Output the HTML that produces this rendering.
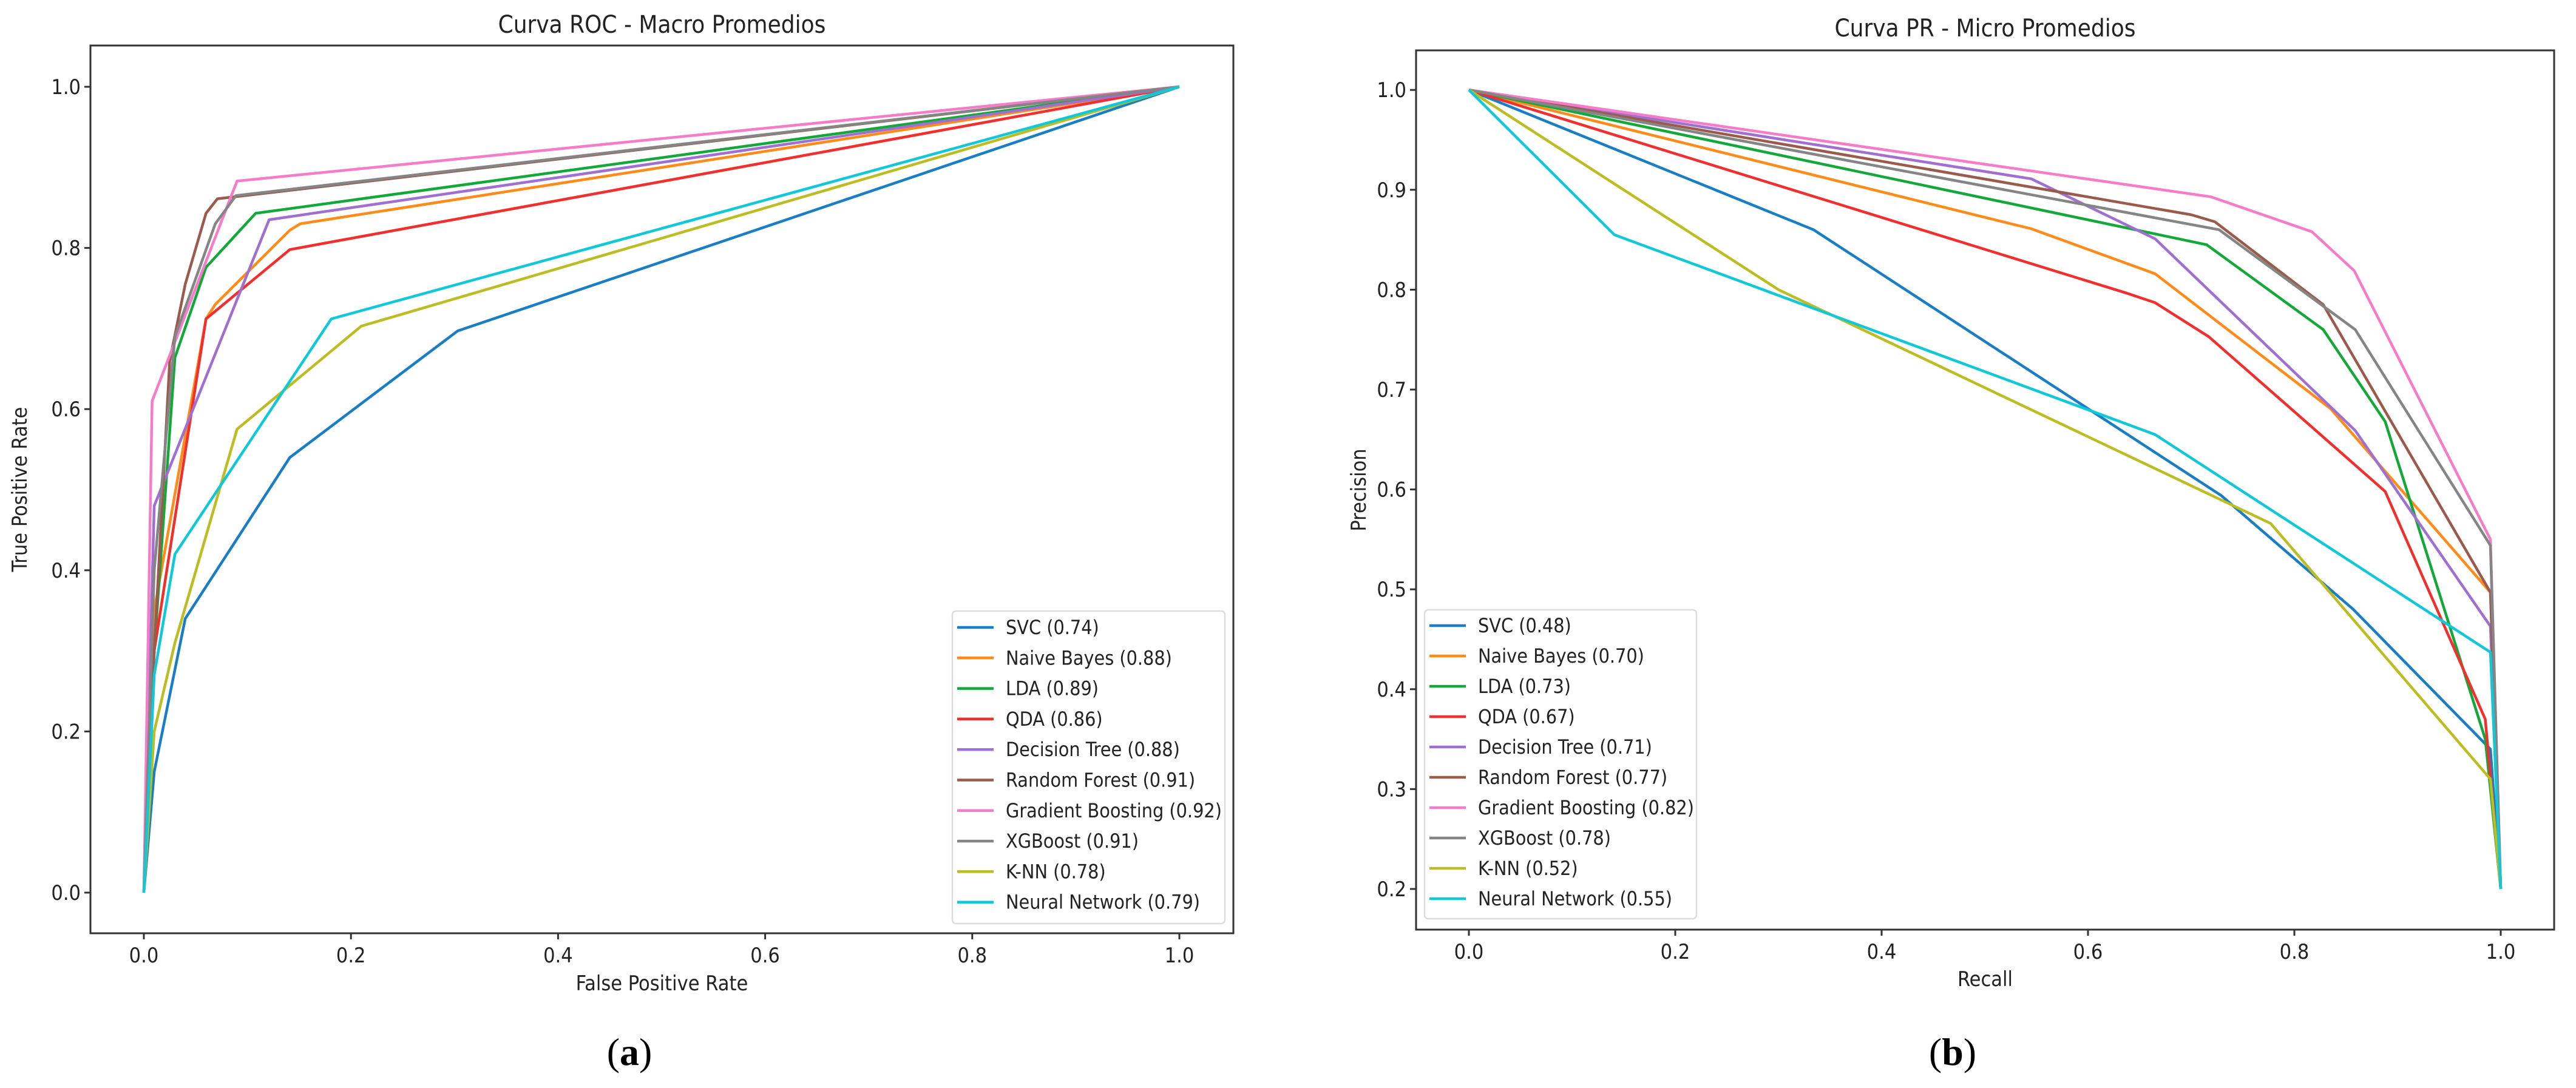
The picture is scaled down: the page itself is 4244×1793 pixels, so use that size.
<!DOCTYPE html>
<html><head><meta charset="utf-8"><style>
html,body{margin:0;padding:0;background:#fff;}
svg{display:block;font-family:"Liberation Sans Narrow","DejaVu Sans Condensed","Liberation Sans",sans-serif;}
</style></head><body>
<svg id="fig" width="4244" height="1793" viewBox="0 0 4244 1793" xmlns="http://www.w3.org/2000/svg"></svg>
<script>
const seriesNames=["SVC","Naive Bayes","LDA","QDA","Decision Tree","Random Forest","Gradient Boosting","XGBoost","K-NN","Neural Network"];
const seriesColors=["#1a7ec4","#ff8c1a","#14a83a","#f0302e","#a070d0","#9a5a4c","#f57cc8","#858585","#bcbd22","#10c8d8"];
const rocAuc=["0.74","0.88","0.89","0.86","0.88","0.91","0.92","0.91","0.78","0.79"];
const prAuc=["0.48","0.70","0.73","0.67","0.71","0.77","0.82","0.78","0.52","0.55"];
const rocX=[
[0,0.01,0.04,0.141,0.303,1],
[0,0.01,0.06,0.069,0.141,0.151,1],
[0,0.01,0.03,0.06,0.108,1],
[0,0.01,0.06,0.141,1],
[0,0.01,0.121,1],
[0,0.01,0.025,0.04,0.06,0.071,1],
[0,0.008,0.09,1],
[0,0.01,0.03,0.069,0.089,1],
[0,0.01,0.03,0.09,0.21,1],
[0,0.01,0.03,0.181,1]];
const rocY=[
[0,0.15,0.34,0.54,0.697,1],
[0,0.35,0.712,0.73,0.822,0.83,1],
[0,0.3,0.664,0.776,0.843,1],
[0,0.3,0.712,0.798,1],
[0,0.48,0.835,1],
[0,0.3,0.66,0.755,0.843,0.861,1],
[0,0.61,0.883,1],
[0,0.4,0.69,0.83,0.865,1],
[0,0.2,0.31,0.575,0.703,1],
[0,0.27,0.42,0.712,1]];
const prX=[
[0,0.334,0.729,0.857,0.99,1],
[0,0.545,0.665,0.835,0.99,1],
[0,0.715,0.828,0.888,0.985,1],
[0,0.636,0.665,0.717,0.801,0.888,0.985,1],
[0,0.545,0.665,0.859,0.99,1],
[0,0.7,0.723,0.828,0.99,1],
[0,0.719,0.817,0.858,0.99,1],
[0,0.727,0.859,0.99,1],
[0,0.3,0.777,0.99,1],
[0,0.141,0.665,0.99,1]];
const prY=[
[1,0.86,0.594,0.48,0.34,0.2],
[1,0.861,0.816,0.681,0.497,0.2],
[1,0.845,0.76,0.668,0.35,0.2],
[1,0.797,0.787,0.753,0.677,0.598,0.37,0.2],
[1,0.911,0.851,0.659,0.463,0.2],
[1,0.875,0.868,0.785,0.497,0.2],
[1,0.893,0.858,0.819,0.55,0.2],
[1,0.86,0.76,0.544,0.2],
[1,0.8,0.566,0.31,0.2],
[1,0.855,0.655,0.437,0.2]];
const rocXTicks=["0.0","0.2","0.4","0.6","0.8","1.0"];
const rocYTicks=["0.0","0.2","0.4","0.6","0.8","1.0"];
const prXTicks=["0.0","0.2","0.4","0.6","0.8","1.0"];
const prYTicks=["0.2","0.3","0.4","0.5","0.6","0.7","0.8","0.9","1.0"];

const NS="http://www.w3.org/2000/svg";
const svg=document.getElementById('fig');
function mk(tag,attrs,parent){const e=document.createElementNS(NS,tag);for(const k in attrs)e.setAttribute(k,attrs[k]);(parent||svg).appendChild(e);return e;}

function drawPanel(cfg){
  const g=mk('g',{});
  
  
  const sx=v=>cfg.x0+v*cfg.xs;
  const sy=v=>cfg.y0-(v-cfg.yBase)*cfg.ys;
  const t=mk('text',{x:(cfg.L+cfg.R)/2,y:cfg.titleY,'font-size':40,'text-anchor':'middle',fill:'#222'},g);
  t.textContent=cfg.title;
  
  
  for(let i=0;i<seriesNames.length;i++){
    const xs=cfg.X[i],ys=cfg.Y[i];
    let d='';
    for(let j=0;j<xs.length;j++)d+=(j?'L':'M')+sx(xs[j]).toFixed(1)+' '+sy(ys[j]).toFixed(1);
    const p=mk('path',{d:d,fill:'none',stroke:seriesColors[i],'stroke-width':4.5,'stroke-linejoin':'round'},g);
    
    
  }
  const box=mk('rect',{x:cfg.L,y:cfg.T,width:cfg.R-cfg.L,height:cfg.B-cfg.T,fill:'none',stroke:'#333','stroke-width':3},g);
  
  
  cfg.xt.forEach(l=>{
    const v=parseFloat(l),x=sx(v);
    mk('line',{x1:x,x2:x,y1:cfg.B,y2:cfg.B+10,stroke:'#333','stroke-width':3},g);
    const tx=mk('text',{x:x,y:cfg.B+48,'font-size':34,'text-anchor':'middle',fill:'#222'},g);
    tx.textContent=l;
    
    
  });
  cfg.yt.forEach(l=>{
    const v=parseFloat(l),y=sy(v);
    mk('line',{x1:cfg.L-10,x2:cfg.L,y1:y,y2:y,stroke:'#333','stroke-width':3},g);
    const ty=mk('text',{x:cfg.L-16,y:y+12,'font-size':34,'text-anchor':'end',fill:'#222'},g);
    ty.textContent=l;
    
    
  });
  const xl=mk('text',{x:(cfg.L+cfg.R)/2,y:cfg.xlY,'font-size':34,'text-anchor':'middle',fill:'#222'},g);
  xl.textContent=cfg.xlabel;
  
  
  const yl=mk('text',{x:0,y:0,'font-size':34,'text-anchor':'middle',fill:'#222',transform:'translate('+cfg.ylX+','+((cfg.T+cfg.B)/2)+') rotate(-90)'},g);
  yl.textContent=cfg.ylabel;
  
  
  const lg=mk('g',{},g);
  
  
  mk('rect',{x:cfg.lgL,y:cfg.lgT,width:cfg.lgW,height:cfg.lgH,rx:6,fill:'#fff','fill-opacity':0.85,stroke:'#ddd','stroke-width':2.5},lg);
  for(let i=0;i<seriesNames.length;i++){
    const y=cfg.lgY0+i*cfg.lgDy;
    const e=mk('g',{},lg);
    
    
    mk('line',{x1:cfg.lgL+8,x2:cfg.lgL+68,y1:y,y2:y,stroke:seriesColors[i],'stroke-width':4.5},e);
    const tt=mk('text',{x:cfg.lgL+88,y:y+11,'font-size':32,fill:'#222'},e);
    tt.textContent=seriesNames[i]+' ('+cfg.auc[i]+')';
  }
  const cap=mk('text',{x:cfg.capX,y:1755,'font-size':64,'text-anchor':'middle',fill:'#000','font-family':'"Liberation Serif",serif'},g);
  cap.innerHTML='(<tspan font-weight="bold">'+cfg.cap+'</tspan>)';
  
  
}

drawPanel({name:'roc-chart',title:'Curva ROC - Macro Promedios',L:149,R:2032,T:75,B:1538,
  x0:237,xs:1706,y0:1471,ys:1328,yBase:0,titleY:54,X:rocX,Y:rocY,xt:rocXTicks,yt:rocYTicks,
  xlabel:'False Positive Rate',ylabel:'True Positive Rate',xlY:1632,ylX:44,
  lgL:1569,lgT:1007,lgW:449,lgH:515,lgY0:1034,lgDy:50.3,auc:rocAuc,capX:1037,cap:'a'});
drawPanel({name:'pr-chart',title:'Curva PR - Micro Promedios',L:2333,R:4208,T:83,B:1532,
  x0:2420,xs:1700,y0:1465,ys:1646,yBase:0.2,titleY:60,X:prX,Y:prY,xt:prXTicks,yt:prYTicks,
  xlabel:'Recall',ylabel:'Precision',xlY:1625,ylX:2250,
  lgL:2347,lgT:1005,lgW:448,lgH:509,lgY0:1031,lgDy:50,auc:prAuc,capX:3217,cap:'b'});
</script>
</body></html>
